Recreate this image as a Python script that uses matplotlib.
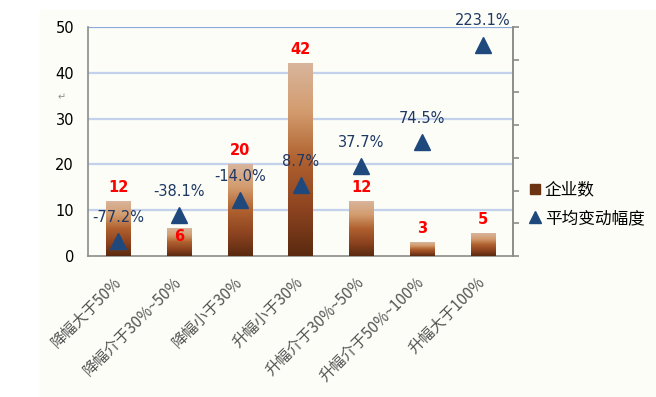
import numpy as np
import matplotlib
matplotlib.use("Agg")
import matplotlib.pyplot as plt
from matplotlib.colors import LinearSegmentedColormap
from matplotlib.lines import Line2D

plt.rcParams["font.family"] = ["DejaVu Sans", "Noto Sans CJK SC"]

# ── 数据 ─────────────────────────────────────────────────────────────
categories = ["降幅大于50%", "降幅介于30%~50%", "降幅小于30%", "升幅小于30%",
              "升幅介于30%~50%", "升幅介于50%~100%", "升幅大于100%"]
counts     = [12, 6, 20, 42, 12, 3, 5]
avg_change = [-77.2, -38.1, -14.0, 8.7, 37.7, 74.5, 223.1]

# 标签偏移 (points) : "6" 在柱内
count_label_dy = [10, -6, 10, 10, 10, 10, 10]

BG       = "#FBFDF6"
BLUE     = "#1F497D"
BROWN    = "#6B3312"
GRID     = "#C3D1EC"

fig = plt.figure(figsize=(6.56, 3.97), dpi=100, facecolor="white")
bg = plt.Rectangle((40 / 656, 0), 1, 1 - 10 / 397,
                   transform=fig.transFigure, color=BG, zorder=-10)
fig.add_artist(bg)
ax = fig.add_axes([88 / 656, 1 - 256 / 397, 425 / 656, 229 / 397])
ax.set_facecolor(BG)

x = np.arange(len(categories))
bars = ax.bar(x, counts, width=0.4, color="none", zorder=3)

# 渐变柱
cmap = LinearSegmentedColormap.from_list(
    "brown", ["#5A2A10", "#8E4420", "#B0612F", "#D39C6E", "#D8B59C"])
grad = np.linspace(0, 1, 256).reshape(-1, 1)
for b in bars:
    ax.imshow(grad, extent=[b.get_x(), b.get_x() + b.get_width(), 0, b.get_height()],
              origin="lower", cmap=cmap, aspect="auto", zorder=3)

ax.set_xlim(-0.5, len(categories) - 0.5)
ax.set_ylim(0, 50)
ax.set_yticks(range(0, 51, 10))
for v in range(10, 51, 10):
    ax.axhline(v, color="#8EA9DB" if v == 50 else GRID, lw=1.6, zorder=1)

for i, (c, dy) in enumerate(zip(counts, count_label_dy)):
    ax.annotate(str(c), (x[i], c), xytext=(0, dy), textcoords="offset points",
                ha="center", va="center", color="red", fontsize=10.5, fontweight="bold",
                zorder=6)

ax.spines["top"].set_visible(False)
for s in ["left", "bottom", "right"]:
    ax.spines[s].set_color("#8C8C8C")
    ax.spines[s].set_linewidth(1.2)
ax.tick_params(axis="y", length=0, pad=10, labelsize=10.5, labelcolor="black")
ax.tick_params(axis="x", length=0, pad=17)
ax.set_xticks(x)
ax.set_xticklabels(categories, rotation=45, ha="right", va="center",
                   rotation_mode="anchor", fontsize=11, color="#555555",
                   family=["Noto Sans CJK SC", "DejaVu Sans"])

# 次坐标轴 : 平均变动幅度
ax2 = ax.twinx()
ax2.set_ylim(-100, 250)
ax2.set_yticks(range(-100, 251, 50))
ax2.tick_params(axis="y", direction="out", length=4, width=1.2, color="#8C8C8C",
                labelright=False)
for s in ["top", "left", "bottom"]:
    ax2.spines[s].set_visible(False)
ax2.spines["right"].set_color("#8C8C8C")
ax2.spines["right"].set_linewidth(1.2)
ax2.plot(x, avg_change, linestyle="none", marker="^", markersize=11,
         color=BLUE, zorder=5)
for i, v in enumerate(avg_change):
    ax2.annotate(f"{v:.1f}%", (x[i], v), xytext=(0, 17), textcoords="offset points",
                 ha="center", va="center", color="#1F3864", fontsize=10.5)

fig.text(62 / 656, 1 - 97 / 397, "↵", color="#909090", fontsize=7,
         ha="center", va="center")

handles = [Line2D([], [], linestyle="none", marker="s", markersize=7, color=BROWN),
           Line2D([], [], linestyle="none", marker="^", markersize=8, color=BLUE)]
ax.legend(handles, ["企业数", "平均变动幅度"], loc="center left",
          bbox_to_anchor=(1.02, 0.225), frameon=False, handlelength=0.8,
          handletextpad=0.2, labelspacing=0.7, borderaxespad=0,
          prop={"family": ["Noto Sans CJK SC", "DejaVu Sans"], "size": 12})

fig.savefig("out.png", dpi=100, facecolor="white")
